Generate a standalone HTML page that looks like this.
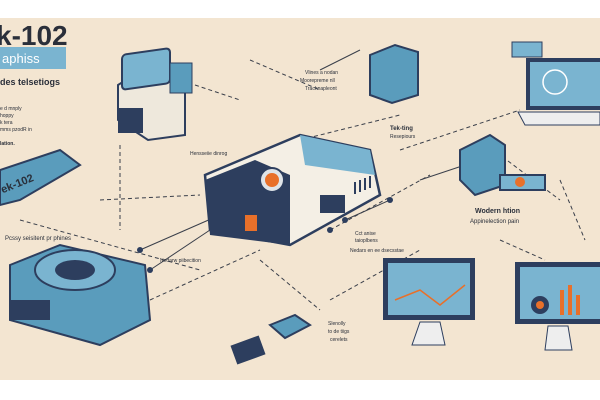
<!DOCTYPE html>
<html><head><style>
html,body{margin:0;padding:0;width:600px;height:400px;overflow:hidden;background:#fff}
svg{display:block}
text{font-family:"Liberation Sans",sans-serif;fill:#2a2f3a}
</style></head><body>
<svg width="600" height="400" viewBox="0 0 600 400">
<rect x="0" y="18" width="600" height="362" fill="#f3e5d1"/>
<g stroke="#3a3f4a" stroke-width="1" fill="none" stroke-dasharray="4 3">
<path d="M120 145 L120 230"/><path d="M195 85 L240 100"/><path d="M250 60 L320 90"/>
<path d="M280 145 L400 115"/><path d="M400 150 L520 110"/><path d="M20 220 L200 270"/>
<path d="M100 200 L200 195"/><path d="M330 230 L430 175"/><path d="M260 260 L320 310"/>
<path d="M330 300 L420 250"/><path d="M500 240 L545 260"/><path d="M560 180 L585 240"/>
<path d="M480 140 L560 200"/><path d="M150 300 L260 250"/>
</g>
<g stroke="#3a3f4a" stroke-width="1" fill="none">
<path d="M140 250 L220 215"/><path d="M150 270 L210 230"/><path d="M345 220 L390 200"/>
<path d="M320 70 L360 50"/><path d="M420 180 L480 160"/>
</g>
<g fill="#2d3e5e"><circle cx="140" cy="250" r="3"/><circle cx="150" cy="270" r="3"/><circle cx="345" cy="220" r="3"/><circle cx="390" cy="200" r="3"/><circle cx="480" cy="160" r="3"/><circle cx="330" cy="230" r="3"/></g>
<text x="-4" y="45" font-size="28" font-weight="bold">k-102</text>
<rect x="0" y="47" width="66" height="22" fill="#7ab4d0"/>
<text x="2" y="63" font-size="13" style="fill:#fff">aphiss</text>
<text x="0" y="85" font-size="9" font-weight="bold">des telsetiogs</text>
<text x="0" y="110" font-size="5">e d mnply</text><text x="0" y="117" font-size="5">hoppy</text>
<text x="0" y="124" font-size="5">k tera</text><text x="0" y="131" font-size="5">mms pzodR in</text>
<text x="0" y="145" font-size="5" font-weight="bold">lation.</text>
<path d="M118 85 L150 65 L185 80 L185 135 L148 140 L118 120 Z" fill="#eee8dc" stroke="#2d3e5e" stroke-width="2"/>
<rect x="122" y="72" width="48" height="35" rx="4" fill="#7ab4d0" stroke="#2d3e5e" stroke-width="2" transform="skewY(-8)"/>
<rect x="118" y="108" width="25" height="25" fill="#2d3e5e"/>
<rect x="170" y="63" width="22" height="30" fill="#5a9cbc" stroke="#2d3e5e"/>
<path d="M0 170 L60 150 L80 165 L20 200 L0 205 Z" fill="#5a9cbc" stroke="#2d3e5e" stroke-width="2"/>
<text x="0" y="190" font-size="11" font-weight="bold" transform="rotate(-22 10 185)">ek-102</text>
<text x="5" y="240" font-size="6">Pcssy seisitent pr phines</text>
<path d="M10 265 L60 245 L145 265 L150 320 L100 345 L10 320 Z" fill="#5a9cbc" stroke="#2d3e5e" stroke-width="2"/>
<ellipse cx="75" cy="270" rx="40" ry="20" fill="#7ab4d0" stroke="#2d3e5e" stroke-width="2"/>
<ellipse cx="75" cy="270" rx="20" ry="10" fill="#2d3e5e"/>
<rect x="10" y="300" width="40" height="20" fill="#2d3e5e"/>
<path d="M205 175 L300 135 L370 150 L380 195 L290 245 L210 230 Z" fill="#f4efe5" stroke="#2d3e5e" stroke-width="2.5"/>
<path d="M300 135 L370 150 L375 175 L305 165 Z" fill="#7ab4d0"/>
<path d="M205 180 L255 160 L290 175 L290 245 L210 235 Z" fill="#2d3e5e"/>
<circle cx="272" cy="180" r="12" fill="#dfe4e8" stroke="#2d3e5e" stroke-width="2"/>
<circle cx="272" cy="180" r="7" fill="#e8702a"/>
<rect x="245" y="215" width="12" height="16" fill="#e8702a"/>
<rect x="320" y="195" width="25" height="18" fill="#2d3e5e"/>
<g stroke="#2d3e5e" stroke-width="2"><path d="M355 182v12M360 180v12M365 178v12M370 176v12"/></g>
<text x="190" y="155" font-size="5">Hensseiie dinrog</text>
<text x="160" y="262" font-size="5">Nedarw piibecition</text>
<text x="355" y="235" font-size="5">Cct anise</text><text x="355" y="242" font-size="5">taioplbens</text>
<text x="350" y="252" font-size="5">Nedars en ee dsecsstae</text>
<path d="M370 55 L395 45 L418 52 L418 95 L392 103 L370 95 Z" fill="#5a9cbc" stroke="#2d3e5e" stroke-width="2"/>
<text x="305" y="74" font-size="5">Vlines a nodan</text><text x="300" y="82" font-size="5">Moorepreme nll</text><text x="305" y="90" font-size="5">Trachnapleont</text>
<text x="390" y="130" font-size="6" font-weight="bold">Tek-ting</text><text x="390" y="138" font-size="5">Resepiours</text>
<path d="M460 150 L490 135 L505 145 L505 185 L475 195 L460 180 Z" fill="#5a9cbc" stroke="#2d3e5e" stroke-width="2"/>
<rect x="500" y="175" width="45" height="15" fill="#7ab4d0" stroke="#2d3e5e" stroke-width="2"/>
<circle cx="520" cy="182" r="5" fill="#e8702a"/>
<text x="475" y="213" font-size="7" font-weight="bold">Wodern htion</text>
<text x="470" y="223" font-size="6">Appinelection pain</text>
<rect x="526" y="58" width="74" height="52" fill="#2d3e5e"/>
<rect x="530" y="62" width="70" height="44" fill="#7ab4d0"/>
<circle cx="555" cy="82" r="12" fill="none" stroke="#fff" stroke-width="1.5"/>
<path d="M518 112 L600 112 L600 125 L525 125 Z" fill="#eee" stroke="#2d3e5e"/>
<rect x="512" y="42" width="30" height="15" fill="#7ab4d0" stroke="#2d3e5e"/>
<rect x="383" y="258" width="92" height="62" fill="#2d3e5e"/>
<rect x="388" y="263" width="82" height="52" fill="#7ab4d0"/>
<path d="M395 300 L420 290 L440 305 L465 285" stroke="#e8702a" stroke-width="1.5" fill="none"/>
<path d="M420 322 L440 322 L445 345 L412 345 Z" fill="#eee" stroke="#2d3e5e"/>
<rect x="515" y="262" width="85" height="62" fill="#2d3e5e"/>
<rect x="520" y="267" width="80" height="52" fill="#7ab4d0"/>
<circle cx="540" cy="305" r="9" fill="#2d3e5e"/><circle cx="540" cy="305" r="4" fill="#e8702a"/>
<path d="M548 326 L568 326 L572 350 L545 350 Z" fill="#eee" stroke="#2d3e5e"/>
<g fill="#e8702a"><rect x="560" y="290" width="4" height="25"/><rect x="568" y="285" width="4" height="30"/><rect x="576" y="295" width="4" height="20"/></g>
<text x="328" y="325" font-size="5">Slenolly</text><text x="328" y="333" font-size="5">to de tiigs</text><text x="330" y="341" font-size="5">cerelets</text>
<path d="M270 325 L295 315 L310 325 L285 338 Z" fill="#5a9cbc" stroke="#2d3e5e" stroke-width="2"/>
<rect x="233" y="340" width="30" height="20" fill="#2d3e5e" transform="rotate(-20 248 350)"/>
</svg>
</body></html>
